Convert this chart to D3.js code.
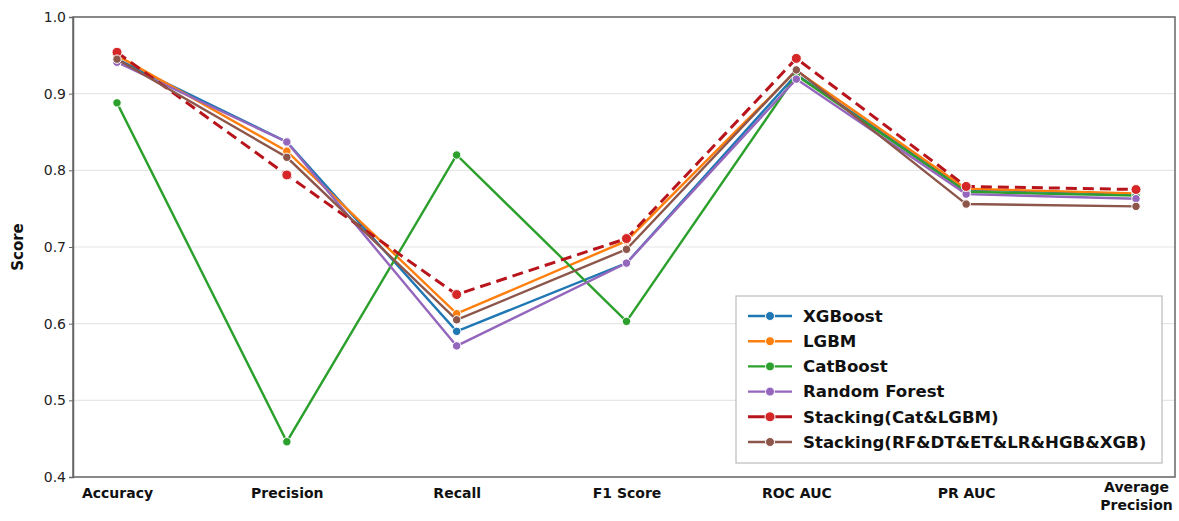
<!DOCTYPE html>
<html>
<head>
<meta charset="utf-8">
<script src="https://cdn.jsdelivr.net/npm/d3@7"></script>
<style>
  body { margin: 0; background: #fff; }
  svg { font-family: "DejaVu Sans", sans-serif; }
</style>
</head>
<body>
<div id="chart"></div>
<script>
// metrics on the x axis
var metrics = ["Accuracy", "Precision", "Recall", "F1 Score", "ROC AUC", "PR AUC", "Average Precision"];

// scores per model
var xgboost = [0.945, 0.837, 0.590, 0.679, 0.925, 0.775, 0.769];
var lgbm = [0.950, 0.825, 0.613, 0.708, 0.930, 0.776, 0.770];
var catboost = [0.888, 0.446, 0.820, 0.603, 0.924, 0.772, 0.767];
var randomForest = [0.941, 0.837, 0.571, 0.679, 0.919, 0.769, 0.763];
var stackCat = [0.954, 0.794, 0.638, 0.711, 0.946, 0.779, 0.775];
var stackRF = [0.945, 0.817, 0.605, 0.697, 0.931, 0.756, 0.753];

var yTicks = [0.4, 0.5, 0.6, 0.7, 0.8, 0.9, 1.0];

var series = [
  { name: "XGBoost", values: xgboost, color: "#1f77b4", dash: null },
  { name: "LGBM", values: lgbm, color: "#ff7f0e", dash: null },
  { name: "CatBoost", values: catboost, color: "#2ca02c", dash: null },
  { name: "Random Forest", values: randomForest, color: "#9467bd", dash: null },
  { name: "Stacking(Cat&LGBM)", values: stackCat, color: "#b8141c", dash: "11,6" },
  { name: "Stacking(RF&DT&ET&LR&HGB&XGB)", values: stackRF, color: "#8c564b", dash: null }
];

var width = 1179;
var height = 521;

// plot area edges
var plotLeft = 73, plotRight = 1175, plotTop = 17, plotBottom = 477;

var svg = d3.select("#chart").append("svg")
  .attr("width", width)
  .attr("height", height);

var xScale = d3.scalePoint().domain(metrics).range([117, 1136]);
var yScale = d3.scaleLinear().domain([0.4, 1.0]).range([plotBottom, plotTop]);

// grid
svg.append("g")
  .selectAll("line")
  .data(yTicks)
  .enter()
  .append("line")
  .attr("x1", plotLeft)
  .attr("x2", plotRight)
  .attr("y1", function (d) { return yScale(d); })
  .attr("y2", function (d) { return yScale(d); })
  .attr("stroke", "#e6e6e6")
  .attr("stroke-width", 1.2);

// frame
svg.append("rect")
  .attr("x", plotLeft)
  .attr("y", plotTop)
  .attr("width", plotRight - plotLeft)
  .attr("height", plotBottom - plotTop)
  .attr("fill", "none")
  .attr("stroke", "#666")
  .attr("stroke-width", 1.5);

// y axis
var yAxis = d3.axisLeft(yScale).tickValues(yTicks).tickFormat(d3.format(".1f")).tickSize(4);
var yG = svg.append("g")
  .attr("transform", "translate(" + plotLeft + ",0)")
  .call(yAxis);
yG.select(".domain").attr("stroke", "#666").attr("stroke-width", 1.5);
yG.selectAll(".tick line").attr("stroke", "#666");
yG.selectAll("text").attr("font-size", 14).attr("fill", "#222").attr("font-family", "DejaVu Sans");

// x axis
var xAxis = d3.axisBottom(xScale).tickSize(0).tickPadding(11);
var xG = svg.append("g")
  .attr("transform", "translate(0," + plotBottom + ")")
  .call(xAxis);
xG.select(".domain").remove();
xG.selectAll("text")
  .attr("font-size", 14)
  .attr("font-weight", "bold")
  .attr("fill", "#111")
  .attr("font-family", "DejaVu Sans")
  .each(function (d) {
    var t = d3.select(this);
    if (d === "Average Precision") {
      t.text(null);
      t.append("tspan").attr("x", 0).attr("dy", "0.71em").text("Average");
      t.append("tspan").attr("x", 0).attr("dy", "1.3em").text("Precision");
      t.attr("dy", null).attr("y", 5);
    }
  });

// y label
svg.append("text")
  .attr("transform", "translate(23," + (plotTop + plotBottom) / 2 + ")rotate(-90)")
  .attr("text-anchor", "middle")
  .attr("font-size", 15)
  .attr("font-weight", "bold")
  .attr("fill", "#111")
  .text("Score");

var line = d3.line()
  .x(function (d, i) { return xScale(metrics[i]); })
  .y(function (d) { return yScale(d); });

series.forEach(function (s) {
  var g = svg.append("g");
  g.append("path")
    .datum(s.values)
    .attr("d", line)
    .attr("fill", "none")
    .attr("stroke", s.color)
    .attr("stroke-width", s.dash ? 3 : 2.4)
    .attr("stroke-dasharray", s.dash);
  g.selectAll("circle")
    .data(s.values)
    .enter()
    .append("circle")
    .attr("cx", function (d, i) { return xScale(metrics[i]); })
    .attr("cy", function (d) { return yScale(d); })
    .attr("r", s.dash ? 5 : 4.2)
    .attr("fill", s.dash ? "#d62728" : s.color)
    .attr("stroke", "#fff")
    .attr("stroke-width", 1);
});

// legend
var lx = 736, ly = 296;
var legend = svg.append("g").attr("transform", "translate(" + lx + "," + ly + ")");
legend.append("rect")
  .attr("width", 426)
  .attr("height", 167)
  .attr("fill", "#fff")
  .attr("stroke", "#bbb")
  .attr("stroke-width", 1.2);

series.forEach(function (s, i) {
  var y = 20 + i * 25.2;
  legend.append("line")
    .attr("x1", 12).attr("x2", 56)
    .attr("y1", y).attr("y2", y)
    .attr("stroke", s.color)
    .attr("stroke-width", s.dash ? 3 : 2.4);
  legend.append("circle")
    .attr("cx", 34).attr("cy", y).attr("r", s.dash ? 5 : 4.5)
    .attr("fill", s.dash ? "#d62728" : s.color)
    .attr("stroke", "#fff").attr("stroke-width", 1);
  legend.append("text")
    .attr("x", 67).attr("y", y)
    .attr("dy", "0.35em")
    .attr("font-size", 16.6)
    .attr("font-weight", "bold")
    .attr("fill", "#111")
    .text(s.name);
});
</script>
</body>
</html>
